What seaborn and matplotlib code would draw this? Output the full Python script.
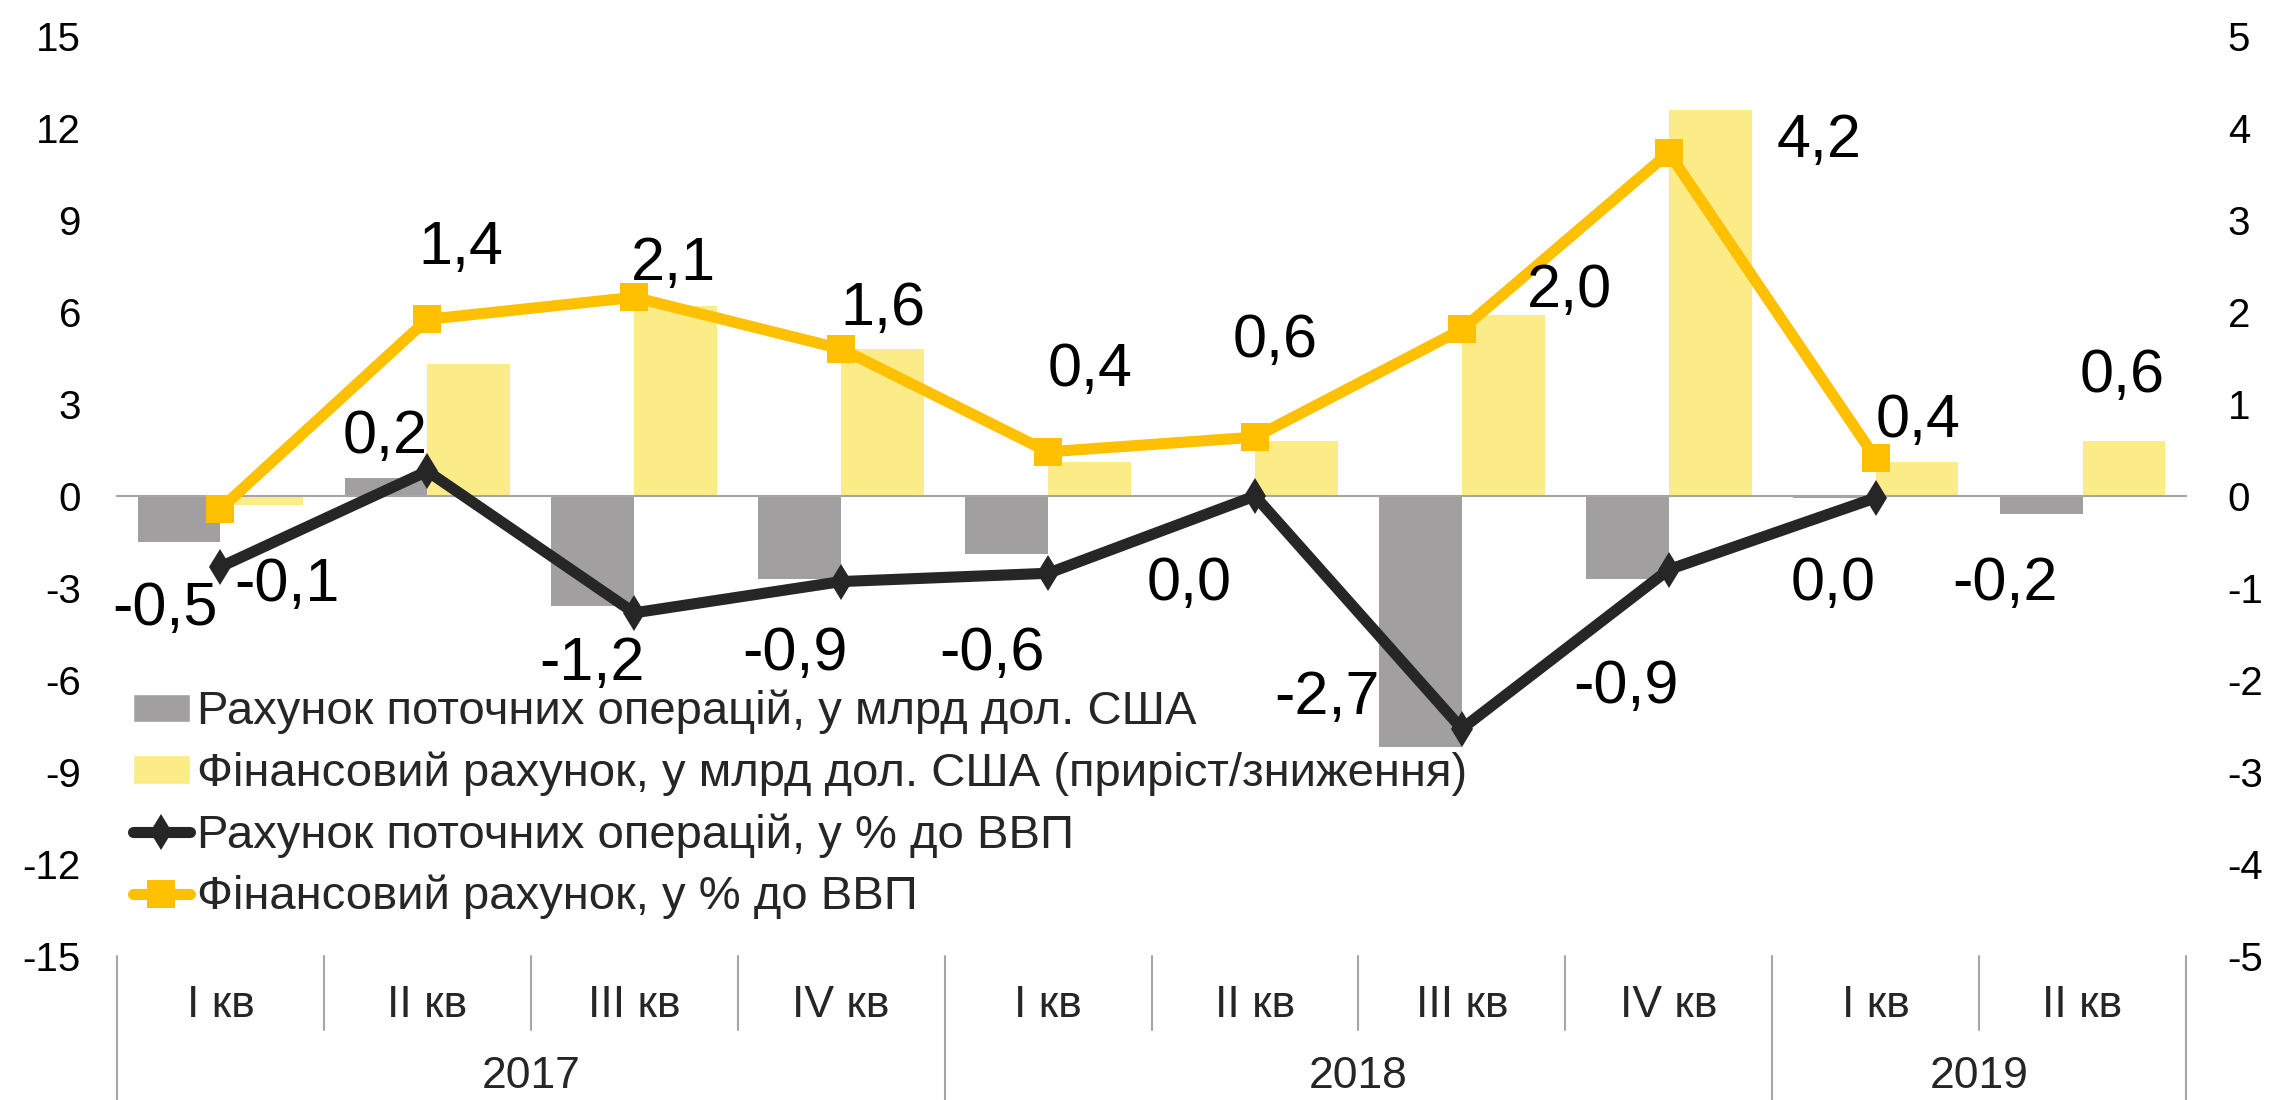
import numpy as np
import pandas as pd
import matplotlib.pyplot as plt
import matplotlib.transforms as mtransforms
from matplotlib.patches import Patch
from matplotlib.lines import Line2D
import seaborn as sns

sns.set_style('white')
plt.rcParams['font.family'] = ['Liberation Sans', 'DejaVu Sans']
plt.rcParams['axes.unicode_minus'] = False

# data
quarters = ['I кв', 'II кв', 'III кв', 'IV кв', 'I кв', 'II кв', 'III кв', 'IV кв', 'I кв', 'II кв']
years = ['2017', '2018', '2019']
year_counts = [4, 4, 2]
ca_bn = [-1.5, 0.6, -3.6, -2.7, -1.9, 0.0, -8.2, -2.7, -0.05, -0.6]
fa_bn = [-0.3, 4.3, 6.2, 4.8, 1.1, 1.8, 5.9, 12.6, 1.1, 1.8]
ca_gdp = [-0.77, 0.27, -1.27, -0.93, -0.84, 0.0, -2.53, -0.8, -0.02, np.nan]
fa_gdp = [-0.14, 1.92, 2.16, 1.6, 0.48, 0.64, 1.81, 3.73, 0.41, np.nan]
ca_labels = ['-0,5', '0,2', '-1,2', '-0,9', '-0,6', '0,0', '-2,7', '-0,9', '0,0', '-0,2']
fa_labels = ['-0,1', '1,4', '2,1', '1,6', '0,4', '0,6', '2,0', '4,2', '0,4', '0,6']
series_names = ['Рахунок поточних операцій, у млрд дол. США',
                'Фінансовий рахунок, у млрд дол. США (приріст/зниження)',
                'Рахунок поточних операцій, у % до ВВП',
                'Фінансовий рахунок, у % до ВВП']

# label offsets in pixels from the line point (x right, y up)
fa_off = [(66, -70), (33, 77), (39, 39), (42, 46), (42, 88), (20, 102), (108, 44), (150, 18), (42, 43), (40, 126)]
ca_off = [(-55, -36), (-42, 40), (-42, -45), (-46, -66), (-56, -75), (-66, -82), (-135, 37), (-43, -111), (-43, -80), (-78, -82)]

GRAY = '#a19fa0'
LIGHT = '#fbec88'
GOLD = '#ffc000'
DARK = '#262626'
AXIS = '#a6a6a6'

n = len(quarters)
year_of = np.repeat(years, year_counts)
period = [q + ' ' + y for q, y in zip(quarters, year_of)]
df = pd.DataFrame({'period': period * 2,
                   'series': [series_names[0]] * n + [series_names[1]] * n,
                   'value': ca_bn + fa_bn})

fig = plt.figure(figsize=(22.69, 11), dpi=100)
W, H = 2269, 1100
ax = fig.add_axes([117 / W, 1 - 956 / H, (2186 - 117) / W, (956 - 36) / H])

sns.barplot(data=df, x='period', y='value', hue='series', palette=[GRAY, LIGHT],
            width=0.8, saturation=1, errorbar=None, linewidth=0, legend=False, ax=ax)
ax.set_ylim(-15, 15)
ax.set_xlim(-0.5, n - 0.5)
ax.set_yticks(range(-15, 16, 3))
ax.set_xlabel('')
ax.set_ylabel('')
for s in ['top', 'left', 'right']:
    ax.spines[s].set_visible(False)
ax.spines['bottom'].set_position(('data', 0))
ax.spines['bottom'].set_color(AXIS)
ax.spines['bottom'].set_linewidth(1.5)
ax.set_xticks(np.arange(-0.5, n, 1))
ax.tick_params(axis='x', length=11, width=1.5, color=AXIS, labelbottom=False, direction='out')
ax.tick_params(axis='y', length=0, pad=26, labelsize=29, labelcolor='black')

ax2 = ax.twinx()
x = np.arange(n)
sns.lineplot(x=x, y=ca_gdp, ax=ax2, color=DARK, linewidth=8, marker='d', markersize=18,
             markeredgewidth=0)
sns.lineplot(x=x, y=fa_gdp, ax=ax2, color=GOLD, linewidth=8, marker='s', markersize=20,
             markeredgewidth=0)
ax2.set_ylim(-5, 5)
ax2.set_xlim(-0.5, n - 0.5)
ax2.set_yticks(range(-5, 6, 1))
ax2.set_ylabel('')
for s in ax2.spines.values():
    s.set_visible(False)
ax2.tick_params(axis='y', length=0, pad=30, labelsize=29, labelcolor='black')
ax2.tick_params(axis='x', bottom=False, labelbottom=False)

# data labels
for vals, labs, offs in [(fa_gdp, fa_labels, fa_off), (ca_gdp, ca_labels, ca_off)]:
    for i, (v, t, o) in enumerate(zip(vals, labs, offs)):
        anchor = v if np.isfinite(v) else 0
        ax2.annotate(t, (i, anchor), xytext=o, textcoords='offset pixels',
                     ha='center', va='center_baseline', fontsize=44, color='black')

# category axis below the plot
trans = mtransforms.blended_transform_factory(ax.transData, ax.transAxes)
year_bounds = np.cumsum([0] + year_counts) - 0.5
for b in np.arange(-0.5, n, 1):
    bottom = -0.16 if b in year_bounds else -0.08
    ax.plot([b, b], [0, bottom], transform=trans, clip_on=False, color=AXIS, lw=1.5)
for i, q in enumerate(quarters):
    ax.text(i, -0.066, q, transform=trans, ha='center', va='baseline', fontsize=32)
for k, y in enumerate(years):
    ax.text((year_bounds[k] + year_bounds[k + 1]) / 2, -0.1435, y, transform=trans,
            ha='center', va='baseline', fontsize=32)

handles = [Patch(facecolor=GRAY), Patch(facecolor=LIGHT),
           Line2D([], [], color=DARK, lw=8, marker='d', ms=18, mew=0, solid_capstyle='round'),
           Line2D([], [], color=GOLD, lw=8, marker='s', ms=20, mew=0, solid_capstyle='round')]
fig.legend(handles, series_names, loc='upper left', bbox_to_anchor=(133 / W, 1 - 690 / H),
           frameon=False, fontsize=34, handlelength=1.2, handleheight=0.55, handletextpad=0.15,
           labelspacing=0.36, borderpad=0, borderaxespad=0)

fig.savefig('out.png', dpi=100)
